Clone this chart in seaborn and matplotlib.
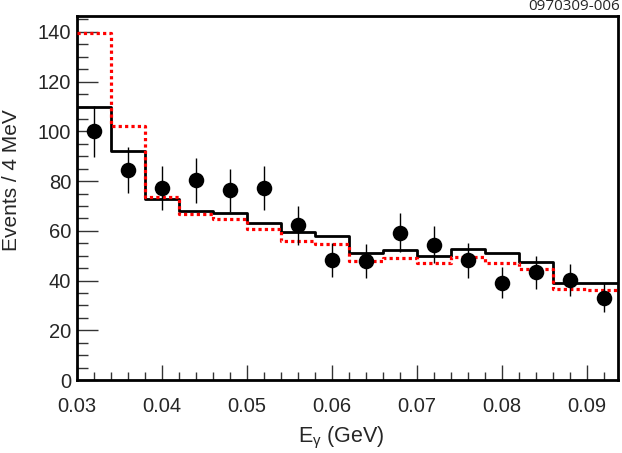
import numpy as np
import pandas as pd
import matplotlib
matplotlib.use("Agg")
import matplotlib.pyplot as plt
from matplotlib.ticker import MultipleLocator
import seaborn as sns

# ---- data ----
bin_edges = [0.030, 0.034, 0.038, 0.042, 0.046, 0.050, 0.054, 0.058, 0.062,
             0.066, 0.070, 0.074, 0.078, 0.082, 0.086, 0.090, 0.094]
fit_black = [110, 92, 73, 68, 67, 63, 59.5, 58, 51, 52.3, 50, 52.7, 51, 47.6, 39, 39]
fit_red = [139.5, 102, 73.7, 66.6, 64.8, 60.6, 55.9, 54.6, 48, 48.9, 47, 49.3, 47.2, 44.5, 36.7, 36.1]
point_x = [0.032, 0.036, 0.040, 0.044, 0.048, 0.052, 0.056, 0.060,
           0.064, 0.068, 0.072, 0.076, 0.080, 0.084, 0.088, 0.092]
point_y = [100, 84.5, 77.2, 80.3, 76.3, 77.2, 62.2, 48.2, 47.9, 59.3, 54.4, 48.1, 39.1, 43.3, 40.2, 33.1]
point_err = [10.3, 9.2, 8.8, 9.0, 8.7, 8.8, 7.9, 6.9, 6.9, 7.7, 7.4, 6.9, 6.3, 6.6, 6.3, 5.8]
x_ticks = [0.03, 0.04, 0.05, 0.06, 0.07, 0.08, 0.09]
x_tick_labels = ["0.03", "0.04", "0.05", "0.06", "0.07", "0.08", "0.09"]
y_ticks = [0, 20, 40, 60, 80, 100, 120, 140]

sns.set_theme(style="ticks")
plt.rcParams['font.family'] = ['Liberation Sans', 'DejaVu Sans']
plt.rcParams['mathtext.fontset'] = 'custom'
plt.rcParams['mathtext.rm'] = 'Liberation Sans'
plt.rcParams['mathtext.it'] = 'Liberation Sans:italic'

fig = plt.figure(figsize=(6.22, 4.53), dpi=100)
ax = fig.add_axes([0.1233, 0.161, 0.994 - 0.1233, 0.9647 - 0.161])

df_black = pd.DataFrame({"x": bin_edges, "y": fit_black + [fit_black[-1]]})
df_red = pd.DataFrame({"x": bin_edges, "y": fit_red + [fit_red[-1]]})

sns.lineplot(data=df_red, x="x", y="y", ax=ax, drawstyle="steps-post",
             color="#ff0000", linewidth=2.3, linestyle=(0, (1, 1)),
             dash_capstyle="butt", zorder=3)
sns.lineplot(data=df_black, x="x", y="y", ax=ax, drawstyle="steps-post",
             color="black", linewidth=2.0, zorder=2)

ax.errorbar(point_x, point_y, yerr=point_err, fmt="none", ecolor="black",
            elinewidth=1.0, capsize=0, zorder=4)
df_pts = pd.DataFrame({"x": point_x, "y": point_y})
sns.scatterplot(data=df_pts, x="x", y="y", ax=ax, color="black", s=125,
                edgecolor="black", linewidth=0, zorder=5)

ax.set_xlim(0.030, 0.0937)
ax.set_ylim(0, 146.4)
ax.set_xticks(x_ticks)
ax.set_xticklabels(x_tick_labels)
ax.set_yticks(y_ticks)
ax.xaxis.set_minor_locator(MultipleLocator(0.002))
ax.yaxis.set_minor_locator(MultipleLocator(5))
ax.tick_params(axis="both", which="major", direction="in", labelsize=14.5,
               width=1.0, color="#333333")
ax.tick_params(axis="y", which="major", length=15, pad=4)
ax.tick_params(axis="x", which="major", length=11, pad=12)
ax.tick_params(axis="y", which="minor", direction="in", length=8, width=1.0, color="#333333")
ax.tick_params(axis="x", which="minor", direction="in", length=6, width=1.0, color="#333333")
ax.tick_params(top=False, right=False, which="both")

for sp in ax.spines.values():
    sp.set_visible(True)
    sp.set_linewidth(2.0)
    sp.set_color("black")

ax.set_xlabel(r"E$_{\mathrm{\gamma}}$ (GeV)", fontsize=15.5)
ax.set_ylabel("Events / 4 MeV", fontsize=15)
ax.yaxis.set_label_coords(-0.103, 0.549)
ax.xaxis.set_label_coords(0.488, -0.122)

fig.text(0.997, 0.985, "0970309-006", ha="right", va="center", fontsize=11,
         family=["Open Sans", "DejaVu Sans"])

fig.savefig("out.png", dpi=100)
